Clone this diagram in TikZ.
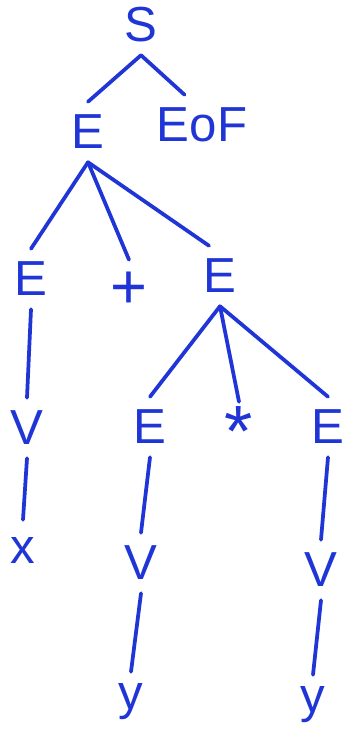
\documentclass[tikz,border=0pt]{standalone}
\usepackage{fontspec}
\setmainfont{Liberation Sans}
\definecolor{InkBlue}{HTML}{1F35D6}
\begin{document}
\begin{tikzpicture}[x=0.03cm,y=-0.03cm,
  sym/.style={text=InkBlue,font=\fontsize{42}{50}\selectfont,
    inner sep=0pt,minimum height=1.8cm},
  edge/.style={InkBlue,line width=3.2pt,line cap=round}]
  \useasboundingbox (0,0) rectangle (354,739);
  % Top of the tree
  \node[sym](S) at (141,25) {S};
  \node[sym](E0) at (88,132) {E};
  \node[sym](EoF) at (202,125) {EoF};
  \node[sym](E1) at (31,279) {E};
  \node[sym,font=\fontsize{54}{60}\selectfont](plus) at (129,290) {+};
  \node[sym](E2) at (220,276) {E};
  % Second level
  \node[sym](V1) at (27,428) {V};
  \node[sym](E3) at (150,427) {E};
  \node[sym,font=\fontsize{62}{70}\selectfont](times) at (239,432) {*};
  \node[sym](E4) at (328,427) {E};
  % Leaves
  \node[sym](x1) at (23,550) {x};
  \node[sym](V2) at (141,563) {V};
  \node[sym](V3) at (321,570) {V};
  \node[sym](y1) at (131,702) {y};
  \node[sym](y2) at (313,705) {y};
  % Connectors
  \draw[edge](S.south)--(E0.north);
  \draw[edge](S.south)--(EoF.120);
  \draw[edge](E0.south)--(E1.north);
  \draw[edge](E0.south)--(plus.north);
  \draw[edge](E0.south)--(E2.110);
  \draw[edge](E1.south)--(V1.north);
  \draw[edge](V1.south)--(x1.north);
  \draw[edge](E2.south)--(E3.north);
  \draw[edge](E2.south)--(times.north);
  \draw[edge](E2.south)--(E4.north);
  \draw[edge](E3.south)--(V2.north);
  \draw[edge](V2.south)--(y1.north);
  \draw[edge](E4.south)--(V3.north);
  \draw[edge](V3.south)--(y2.north);
\end{tikzpicture}
\end{document}
